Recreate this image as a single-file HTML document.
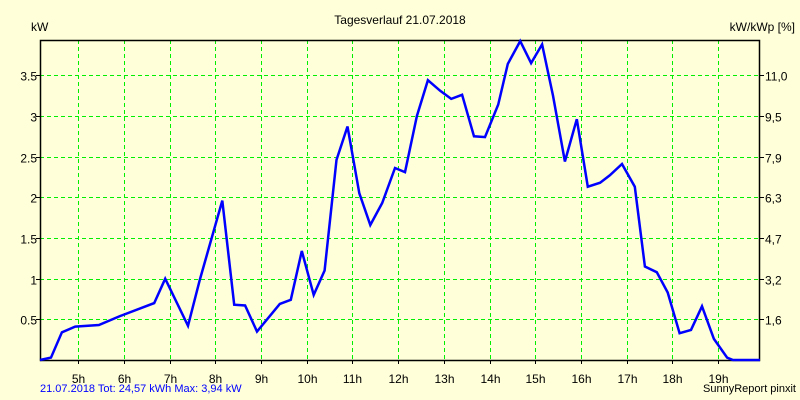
<!DOCTYPE html>
<html><head><meta charset="utf-8"><style>
html,body{margin:0;padding:0;background:#ffffd9;}
svg{display:block;font-family:"Liberation Sans",sans-serif;}
</style></head><body>
<svg id="chart" width="800" height="400">
<rect x="0" y="0" width="800" height="400" fill="#ffffd9"/>
<text x="400" y="24" text-anchor="middle" font-size="12" fill="#000">Tagesverlauf 21.07.2018</text>
<text x="31" y="31" font-size="12" fill="#000">kW</text>
<text x="795" y="31" text-anchor="end" font-size="12" fill="#000">kW/kWp [%]</text>
<text x="40" y="392" font-size="11" fill="#0000ff">21.07.2018 Tot: 24,57 kWh Max: 3,94 kW</text>
<text x="796" y="392" text-anchor="end" font-size="11" fill="#000">SunnyReport pinxit</text>
<g id="grid"></g><g id="axes"></g><g id="series"></g>
</svg>
<script>
const hours=[5,6,7,8,9,10,11,12,13,14,15,16,17,18,19];
const hourLabels=["5h","6h","7h","8h","9h","10h","11h","12h","13h","14h","15h","16h","17h","18h","19h"];
const kwTicks=[0.5,1,1.5,2,2.5,3,3.5];
const kwTickLabels=["0.5","1","1.5","2","2.5","3","3.5"];
const rightTickLabels=["1,6","3,2","4,7","6,3","7,9","9,5","11,0"];
const times=[4.16,4.40,4.64,4.93,5.45,5.91,6.66,6.90,7.40,7.66,8.15,8.41,8.65,8.91,9.41,9.65,9.89,10.15,10.39,10.65,10.89,11.15,11.39,11.65,11.93,12.15,12.41,12.65,12.92,13.16,13.40,13.66,13.90,14.19,14.40,14.67,14.91,15.15,15.39,15.65,15.91,16.15,16.42,16.63,16.90,17.18,17.40,17.66,17.90,18.16,18.41,18.65,18.91,19.20,19.33,19.92];
const power=[0,0.03,0.34,0.41,0.43,0.54,0.70,1.0,0.42,0.99,1.96,0.68,0.67,0.35,0.69,0.74,1.34,0.80,1.10,2.46,2.87,2.05,1.66,1.93,2.36,2.31,3.0,3.44,3.31,3.21,3.26,2.75,2.74,3.14,3.64,3.92,3.65,3.88,3.25,2.44,2.96,2.13,2.18,2.27,2.41,2.13,1.15,1.08,0.83,0.33,0.37,0.66,0.26,0.03,0,0];
const L=40,R=760,T=40,B=360,H0=4.16,H1=19.92,YMAX=3.934;
const xs=h=>L+(h-H0)/(H1-H0)*(R-L);
const ys=v=>B-v/YMAX*(B-T);
const NS="http://www.w3.org/2000/svg";
function mk(tag,parent,attrs){const e=document.createElementNS(NS,tag);for(const k in attrs)e.setAttribute(k,attrs[k]);parent.appendChild(e);return e;}
const grid=document.getElementById('grid'),axes=document.getElementById('axes'),series=document.getElementById('series');
hours.forEach((h,i)=>{const x=Math.round(xs(h))+0.5;
 const g=mk('line',grid,{x1:x,x2:x,y1:T,y2:B,stroke:'#00ee00','stroke-dasharray':'4,3'});
 
 
 const tk=mk('line',axes,{x1:x,x2:x,y1:B,y2:B+4,stroke:'#000'});
 
 
 const t=mk('text',axes,{x:x,y:383,'text-anchor':'middle','font-size':'12',fill:'#000'});t.textContent=hourLabels[i];
 
 
});
kwTicks.forEach((v,i)=>{const y=Math.round(ys(v))+0.5;
 const g=mk('line',grid,{x1:L,x2:R,y1:y,y2:y,stroke:'#00ee00','stroke-dasharray':'4,3'});
 
 
 const tk=mk('line',axes,{x1:L-4,x2:L,y1:y,y2:y,stroke:'#000'});
 
 
 const tr=mk('line',axes,{x1:R,x2:R+4,y1:y,y2:y,stroke:'#000'});
 
 
 const t=mk('text',axes,{x:37,y:y+5,'text-anchor':'end','font-size':'12',fill:'#000'});t.textContent=kwTickLabels[i];
 
 
 const t2=mk('text',axes,{x:765,y:y+5,'font-size':'12',fill:'#000'});t2.textContent=rightTickLabels[i];
 
 
});
const frame=mk('rect',axes,{x:L+0.5,y:T+0.5,width:R-L-1,height:B-T,fill:'none',stroke:'#000','stroke-width':'1.5'});


const pts=times.map((t,i)=>xs(t).toFixed(1)+','+ys(power[i]).toFixed(1)).join(' ');
const line=mk('polyline',series,{points:pts,fill:'none',stroke:'#0000ff','stroke-width':'2.5','stroke-linejoin':'miter'});


</script>
</body></html>
